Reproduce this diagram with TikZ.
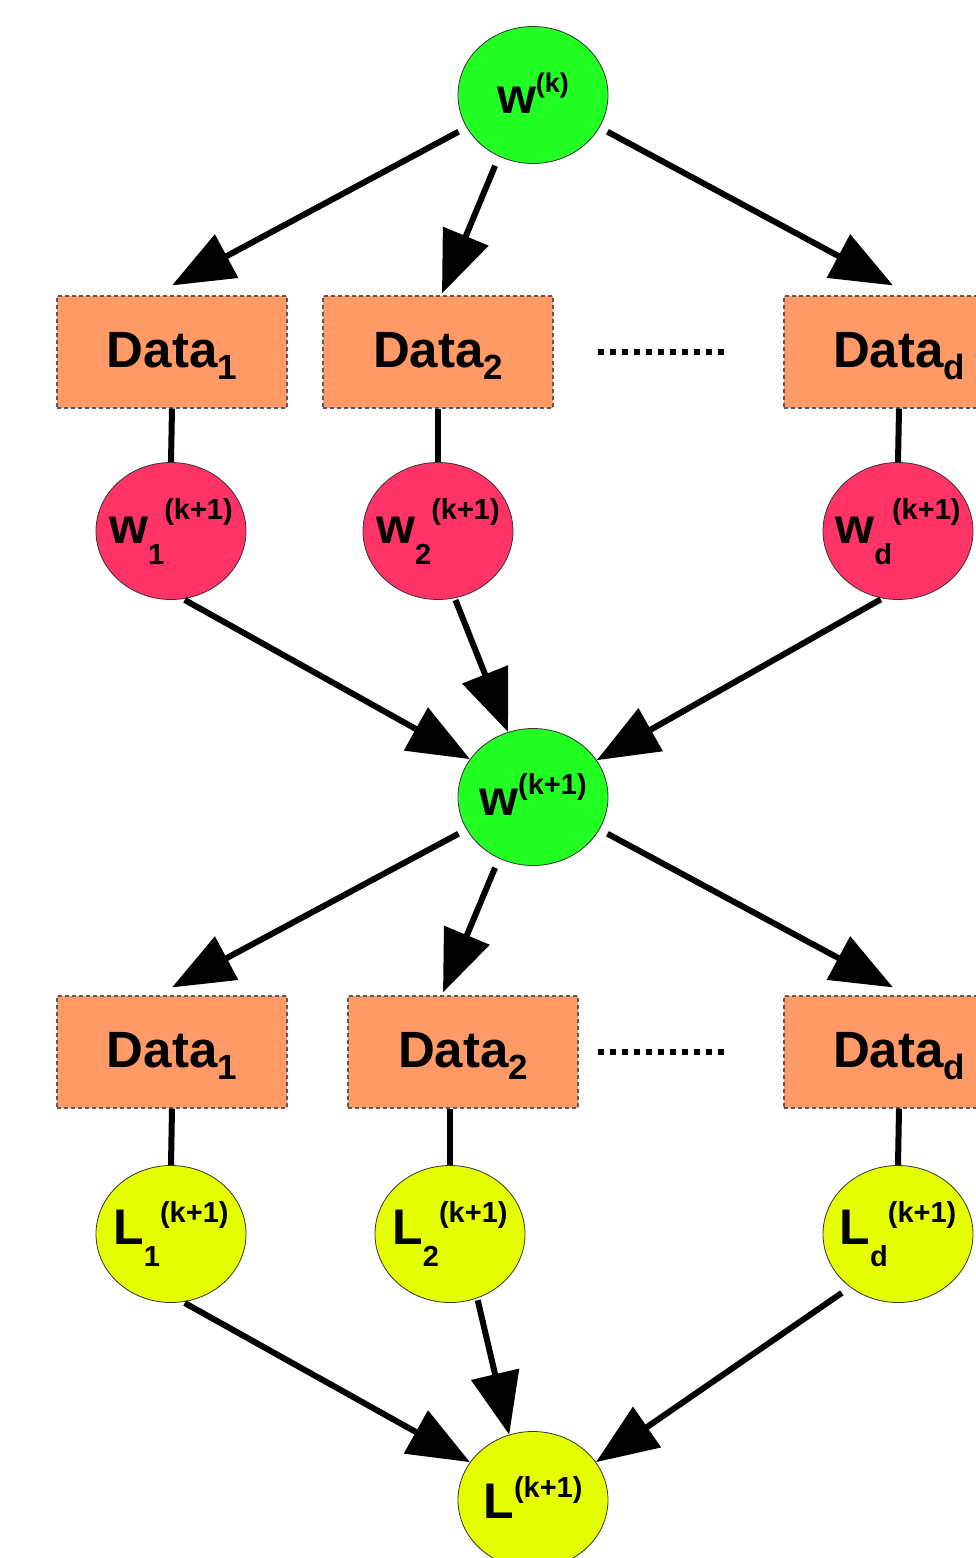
\documentclass[tikz,border=0pt]{standalone}
\usepackage{fontspec}
\setmainfont{Liberation Sans}
\usetikzlibrary{shapes.geometric,arrows.meta}
\definecolor{cgreen}{HTML}{22FF22}
\definecolor{cred}{HTML}{FF3366}
\definecolor{corange}{HTML}{FF9966}
\definecolor{cyellow}{HTML}{E6FF00}
\newcommand\lbl[2]{\raisebox{-#1pt}[0pt][0pt]{\makebox[0pt][c]{\bfseries #2}}}
\newcommand\Bsz{\fontsize{50}{50}\selectfont}
\newcommand\Ssz{\fontsize{29}{29}\selectfont}
\newcommand\Dsz{\fontsize{51}{51}\selectfont}
\newcommand\Dsub{\fontsize{35}{35}\selectfont}
\newcommand\sublbl[3]{\lbl{12}{\Bsz #1\raisebox{-21pt}{\Ssz #2}\raisebox{24pt}{\Ssz #3}}}
\newcommand\datalbl[1]{\lbl{15}{\Dsz Data\raisebox{-12pt}{\Dsub #1}}}
\begin{document}
\begin{tikzpicture}[x=1pt,y=-1pt,
 ell/.style={ellipse, draw=black!80, line width=0.8pt, minimum width=150pt, minimum height=137pt, inner sep=0pt},
 databox/.style={rectangle, draw=black!65, dash pattern=on 4pt off 3pt, line width=1.2pt, fill=corange, minimum width=230pt, minimum height=112pt, inner sep=0pt},
 arr/.style={line width=6pt, -{Triangle[length=62pt,width=48pt]}},
 link/.style={line width=6pt},
 dots/.style={line width=5.5pt, dash pattern=on 5.5pt off 6.5pt}
]
\useasboundingbox (0,0) rectangle (975,1558);
% top
\node[ell, fill=cgreen] (wk) at (533,95) {\lbl{18}{\Bsz w\raisebox{21pt}{\fontsize{27}{27}\selectfont (k)}}};
% data row 1
\node[databox] (da1) at (172,352) {\datalbl{1}};
\node[databox] (da2) at (438,352) {\datalbl{2}};
\node[databox] (dad) at (899,352) {\datalbl{d}};
\coordinate (dota) at (598,352);
\coordinate (dotb) at (727,352);
\draw[dots] (dota) -- (dotb);
% red
\node[ell, fill=cred] (wa1) at (171,531) {\sublbl{w}{1}{(k+1)}};
\node[ell, fill=cred] (wa2) at (438,531) {\sublbl{w}{2}{(k+1)}};
\node[ell, fill=cred] (wad) at (898,531) {\sublbl{w}{d}{(k+1)}};
% middle
\node[ell, fill=cgreen] (wk1) at (533,797) {\lbl{18}{\Bsz w\raisebox{21pt}{\Ssz (k+1)}}};
% data row 2
\node[databox] (db1) at (172,1052) {\datalbl{1}};
\node[databox] (db2) at (463,1052) {\datalbl{2}};
\node[databox] (dbd) at (899,1052) {\datalbl{d}};
\coordinate (dotc) at (598,1052);
\coordinate (dotd) at (727,1052);
\draw[dots] (dotc) -- (dotd);
% yellow
\node[ell, fill=cyellow] (l1) at (171,1234) {\lbl{10}{\Bsz L\raisebox{-22pt}{\Ssz 1}\raisebox{22pt}{\Ssz (k+1)}}};
\node[ell, fill=cyellow] (l2) at (450,1234) {\lbl{10}{\Bsz L\raisebox{-22pt}{\Ssz 2}\raisebox{22pt}{\Ssz (k+1)}}};
\node[ell, fill=cyellow] (ld) at (898,1234) {\lbl{10}{\Bsz L\raisebox{-22pt}{\Ssz d}\raisebox{22pt}{\Ssz (k+1)}}};
\node[ell, fill=cyellow] (lk1) at (533,1500) {\lbl{18}{\Bsz L\raisebox{21pt}{\Ssz (k+1)}}};
% arrows top
\draw[arr, shorten <=9pt] (wk.206) -- ([yshift=10pt]da1.north);
\draw[arr, shorten <=10pt] (wk.241) -- ([xshift=4pt,yshift=2pt]da2.north);
\draw[arr, shorten <=9pt] (wk.-26) -- ([xshift=-6pt,yshift=10pt]dad.north);
% links row 1
\draw[link] (da1.south) -- (wa1.north);
\draw[link] (da2.south) -- (wa2.north);
\draw[link] (dad.south) -- (wad.north);
% red to middle
\draw[arr, shorten <=2pt] (wa1.-80) -- (wk1.149);
\draw[arr, shorten <=2pt] (wa2.-76) -- (wk1.111);
\draw[arr, shorten <=2pt] (wad.-103) -- (wk1.30);
% arrows middle
\draw[arr, shorten <=9pt] (wk1.206) -- ([yshift=8pt]db1.north);
\draw[arr, shorten <=10pt] (wk1.241) -- ([xshift=-20pt,yshift=3pt]db2.north);
\draw[arr, shorten <=9pt] (wk1.-26) -- ([xshift=-6pt,yshift=8pt]dbd.north);
% links row 2
\draw[link] (db1.south) -- (l1.north);
\draw[link] (l2.north |- db2.south) -- (l2.north);
\draw[link] (dbd.south) -- (ld.north);
% yellow to bottom
\draw[arr, shorten <=2pt] (l1.-80) -- (lk1.149);
\draw[arr, shorten <=2pt] (l2.-67) -- (lk1.110);
\draw[arr, shorten <=10pt] (ld.228) -- (lk1.31);
\end{tikzpicture}
\end{document}
